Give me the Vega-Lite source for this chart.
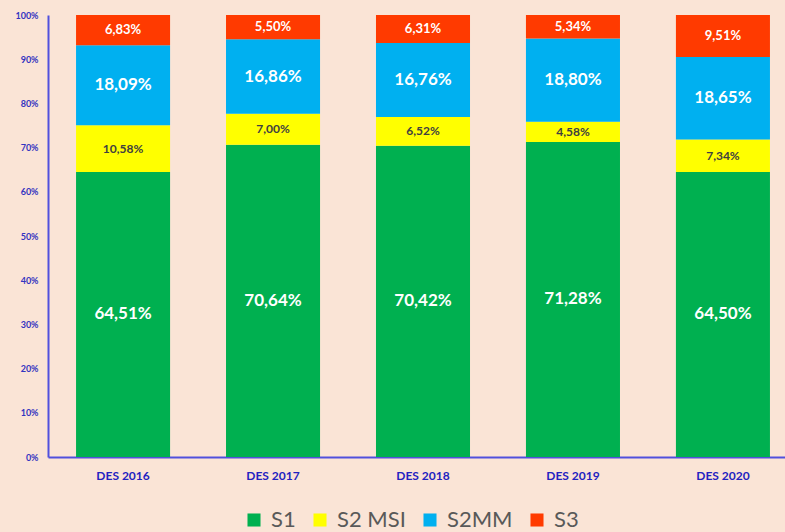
{
  "$schema": "https://vega.github.io/schema/vega-lite/v6.json",
  "width": 750,
  "height": 442,
  "autosize": {"type": "none"},
  "padding": {"left": 48, "top": 15, "right": 0, "bottom": 75},
  "background": "#FAE4D6",
  "config": {
    "view": {"stroke": null},
    "locale": {"number": {"decimal": ",", "thousands": ".", "grouping": [3], "currency": ["", ""]}}
  },
  "data": {
    "values": [
      {"year": "DES 2016", "series": "S1", "value": 0.6451},
      {"year": "DES 2016", "series": "S2 MSI", "value": 0.1058},
      {"year": "DES 2016", "series": "S2MM", "value": 0.1809},
      {"year": "DES 2016", "series": "S3", "value": 0.0683},
      {"year": "DES 2017", "series": "S1", "value": 0.7064},
      {"year": "DES 2017", "series": "S2 MSI", "value": 0.0700},
      {"year": "DES 2017", "series": "S2MM", "value": 0.1686},
      {"year": "DES 2017", "series": "S3", "value": 0.0550},
      {"year": "DES 2018", "series": "S1", "value": 0.7042},
      {"year": "DES 2018", "series": "S2 MSI", "value": 0.0652},
      {"year": "DES 2018", "series": "S2MM", "value": 0.1676},
      {"year": "DES 2018", "series": "S3", "value": 0.0631},
      {"year": "DES 2019", "series": "S1", "value": 0.7128},
      {"year": "DES 2019", "series": "S2 MSI", "value": 0.0458},
      {"year": "DES 2019", "series": "S2MM", "value": 0.1880},
      {"year": "DES 2019", "series": "S3", "value": 0.0534},
      {"year": "DES 2020", "series": "S1", "value": 0.6450},
      {"year": "DES 2020", "series": "S2 MSI", "value": 0.0734},
      {"year": "DES 2020", "series": "S2MM", "value": 0.1865},
      {"year": "DES 2020", "series": "S3", "value": 0.0951}
    ]
  },
  "encoding": {
    "x": {
      "field": "year", "type": "nominal",
      "scale": {"paddingInner": 0.373, "paddingOuter": 0.187},
      "axis": {
        "title": null, "labelAngle": 0, "labelFont": "Lato", "labelFontWeight": "bold",
        "labelFontSize": 12, "labelColor": "#2222C0", "labelPadding": 13,
        "ticks": false, "domainColor": "#5050DD", "domainWidth": 2
      }
    },
    "order": {"field": "series", "type": "nominal", "sort": "ascending"}
  },
  "layer": [
    {
      "mark": {"type": "bar"},
      "encoding": {
        "y": {
          "field": "value", "type": "quantitative", "stack": "normalize",
          "scale": {"domain": [0, 1]},
          "axis": {
            "title": null, "format": ".0%", "values": [0,0.1,0.2,0.3,0.4,0.5,0.6,0.7,0.8,0.9,1],
            "labelOverlap": false, "grid": false, "ticks": false, "labelFont": "Lato", "labelFontWeight": "bold",
            "labelFontSize": 9, "labelColor": "#3333C0", "labelPadding": 10,
            "domainColor": "#5050DD", "domainWidth": 2
          }
        },
        "color": {
          "field": "series", "type": "nominal",
          "scale": {"domain": ["S1", "S2 MSI", "S2MM", "S3"], "range": ["#00B050", "#FFFF00", "#00B0F0", "#FF3A00"]},
          "legend": {
            "title": null, "orient": "none", "direction": "horizontal",
            "legendX": 195, "legendY": 494, "padding": 0,
            "symbolType": "square", "symbolSize": 170, "symbolStrokeWidth": 0,
            "labelFont": "Lato", "labelFontSize": 22, "labelColor": "#595959",
            "columnPadding": 13, "symbolOffset": 0, "labelOffset": 6
          }
        }
      }
    },
    {
      "mark": {"type": "text", "font": "Lato", "fontWeight": "bold"},
      "encoding": {
        "y": {"field": "value", "type": "quantitative", "stack": "normalize", "bandPosition": 0.5},
        "detail": {"field": "series", "type": "nominal"},
        "text": {"field": "value", "type": "quantitative", "format": ".2%"},
        "color": {
          "condition": {"test": "datum.series === 'S2 MSI'", "value": "#404040"},
          "value": "#FFFFFF"
        },
        "size": {
          "condition": [
            {"test": "datum.series === 'S2 MSI'", "value": 12},
            {"test": "datum.series === 'S3'", "value": 13}
          ],
          "value": 17
        }
      }
    }
  ]
}
